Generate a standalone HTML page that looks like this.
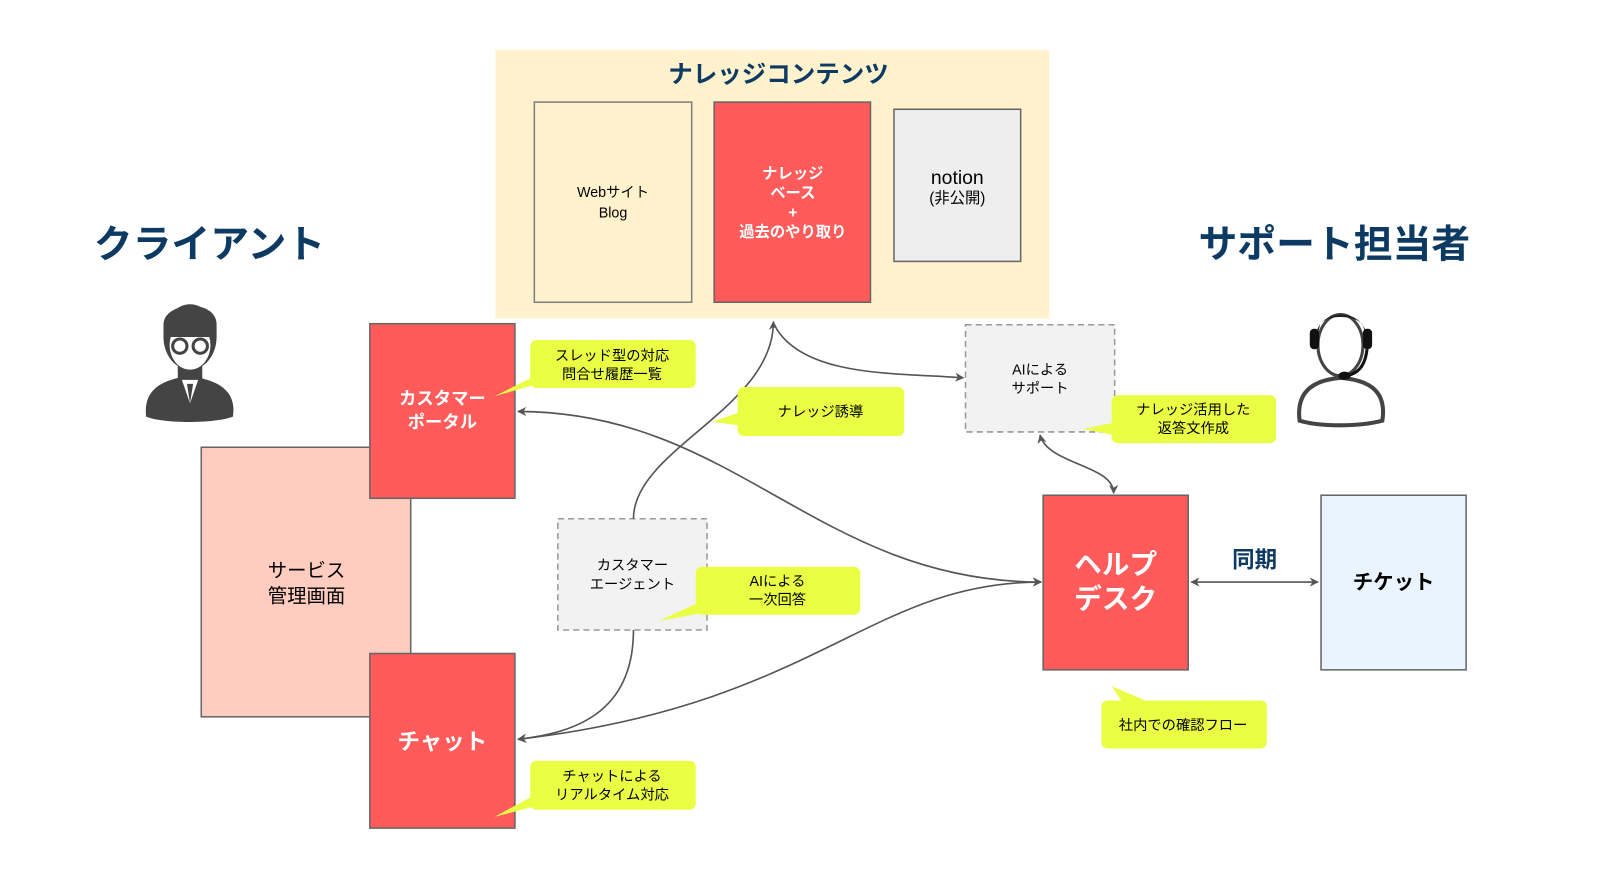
<!DOCTYPE html>
<html><head><meta charset="utf-8"><style>
html,body{margin:0;padding:0;background:#fff;}
svg{display:block;}
text{font-family:"Liberation Sans","Noto Sans CJK JP",sans-serif;}
</style></head><body>
<svg width="1602" height="871" viewBox="0 0 1568 853" preserveAspectRatio="none" xmlns="http://www.w3.org/2000/svg">
<defs>
<marker id="ah" viewBox="0 0 10 10" refX="9" refY="5" markerWidth="9" markerHeight="9" orient="auto-start-reverse" markerUnits="userSpaceOnUse">
<path d="M0,0 L10,5 L0,10 L3,5 Z" fill="#555"/>
</marker>
</defs>
<rect x="485" y="49" width="542" height="263" fill="#fff2cc"/>
<text x="762" y="81" font-size="24" font-weight="bold" fill="#0d3a63" text-anchor="middle">ナレッジコンテンツ</text>
<rect x="523" y="100" width="154" height="196" fill="#fff2cc" stroke="#7f7f7f" stroke-width="1.5"/>
<text x="600" y="193" font-size="14" text-anchor="middle">Webサイト</text>
<text x="600" y="213" font-size="14" text-anchor="middle">Blog</text>
<rect x="699" y="100" width="153" height="196" fill="#ff5b5b" stroke="#666" stroke-width="1.5"/>
<g font-size="15" font-weight="bold" fill="#fff" text-anchor="middle">
<text x="776" y="175">ナレッジ</text><text x="776" y="194">ベース</text><text x="776" y="213">+</text><text x="776" y="232">過去のやり取り</text></g>
<rect x="875" y="107" width="124" height="149" fill="#eeeeee" stroke="#666" stroke-width="1.5"/>
<text x="937" y="180" font-size="19" text-anchor="middle">notion</text>
<text x="937" y="199" font-size="15" text-anchor="middle">(非公開)</text>
<text x="205" y="252" font-size="38" font-weight="bold" fill="#0d3a63" text-anchor="middle">クライアント</text>
<text x="1306" y="252" font-size="38" font-weight="bold" fill="#0d3a63" text-anchor="middle">サポート担当者</text>
<g fill="#444">
<path d="M143,408 C140,380 160,372 185,368 C210,372 232,380 228,408 C210,415 160,415 143,408Z"/>
<ellipse cx="186" cy="330" rx="26" ry="32"/>
<rect x="174" y="350" width="24" height="22"/>
</g>
<ellipse cx="186" cy="338" rx="20" ry="24" fill="#fff"/>
<path d="M160,318 C160,295 212,292 212,318 L212,330 L160,330Z" fill="#444"/>
<circle cx="176" cy="339" r="7" fill="none" stroke="#444" stroke-width="3"/>
<circle cx="196" cy="339" r="7" fill="none" stroke="#444" stroke-width="3"/>
<path d="M178,372 L186,395 L194,372Z" fill="#fff"/>
<path d="M183,376 L186,395 L189,376Z" fill="#444"/>
<path d="M1272,412 C1268,380 1290,372 1312,370 C1336,372 1358,380 1353,412 C1330,418 1292,418 1272,412Z" fill="#fff" stroke="#444" stroke-width="4"/>
<ellipse cx="1312" cy="338" rx="22" ry="30" fill="#fff" stroke="#444" stroke-width="3"/>
<path d="M1288,335 C1284,300 1340,298 1338,335 L1334,318 C1326,308 1298,308 1292,318Z" fill="#222"/>
<rect x="1282" y="322" width="9" height="20" rx="4" fill="#111"/>
<rect x="1334" y="322" width="9" height="20" rx="4" fill="#111"/>
<path d="M1338,342 C1336,360 1328,366 1318,368" fill="none" stroke="#111" stroke-width="3"/>
<ellipse cx="1316" cy="368" rx="6" ry="4" fill="#111"/>
<rect x="197" y="438" width="205" height="264" fill="#ffccc0" stroke="#666" stroke-width="1.5"/>
<text x="300" y="565" font-size="19" text-anchor="middle">サービス</text>
<text x="300" y="590" font-size="19" text-anchor="middle">管理画面</text>
<rect x="362" y="317" width="142" height="171" fill="#ff5b5b" stroke="#666" stroke-width="1.5"/>
<text x="433" y="396" font-size="17" font-weight="bold" fill="#fff" text-anchor="middle">カスタマー</text>
<text x="433" y="419" font-size="17" font-weight="bold" fill="#fff" text-anchor="middle">ポータル</text>
<rect x="362" y="640" width="142" height="171" fill="#ff5b5b" stroke="#666" stroke-width="1.5"/>
<text x="433" y="734" font-size="22" font-weight="bold" fill="#fff" text-anchor="middle">チャット</text>
<rect x="945" y="318" width="146" height="105" fill="#f2f2f2" stroke="#999" stroke-width="1.5" stroke-dasharray="6,4"/>
<text x="1018" y="367" font-size="14" text-anchor="middle">AIによる</text>
<text x="1018" y="385" font-size="14" text-anchor="middle">サポート</text>
<rect x="546" y="508" width="146" height="109" fill="#f2f2f2" stroke="#999" stroke-width="1.5" stroke-dasharray="6,4"/>
<text x="619" y="558" font-size="14" text-anchor="middle">カスタマー</text>
<text x="619" y="577" font-size="14" text-anchor="middle">エージェント</text>
<rect x="1021" y="485" width="142" height="171" fill="#ff5b5b" stroke="#666" stroke-width="1.5"/>
<text x="1092" y="562" font-size="27" font-weight="bold" fill="#fff" text-anchor="middle">ヘルプ</text>
<text x="1092" y="596" font-size="27" font-weight="bold" fill="#fff" text-anchor="middle">デスク</text>
<rect x="1293" y="485" width="142" height="171" fill="#eaf4ff" stroke="#666" stroke-width="1.5"/>
<text x="1364" y="577" font-size="20" font-weight="bold" text-anchor="middle">チケット</text>
<text x="1228" y="556" font-size="22" font-weight="bold" fill="#0d3a63" text-anchor="middle">同期</text>
<g fill="none" stroke="#555" stroke-width="1.6">
<path d="M1166,570 L1290,570" marker-start="url(#ah)" marker-end="url(#ah)"/>
<path d="M1019,570 C800,570 720,403 507,403" marker-start="url(#ah)" marker-end="url(#ah)"/>
<path d="M507,724 C800,690 850,570 1019,570" marker-start="url(#ah)" marker-end="url(#ah)"/>
<path d="M620,508 C620,440 757,400 757,315" marker-end="url(#ah)"/>
<path d="M760,322 C790,370 880,365 943,370" marker-end="url(#ah)"/>
<path d="M620,617 C620,700 560,718 507,724" marker-end="url(#ah)"/>
<path d="M1018,426 C1025,455 1090,455 1090,483" marker-start="url(#ah)" marker-end="url(#ah)"/>
</g>
<g fill="#eaff44">
<rect x="519" y="333" width="162" height="47" rx="6"/><path d="M530,365 L484,388 L530,375Z"/>
<rect x="722" y="379" width="163" height="48" rx="6"/><path d="M735,400 L697,413 L735,418Z"/>
<rect x="681" y="555" width="161" height="47" rx="6"/><path d="M695,585 L645,608 L700,598Z"/>
<rect x="519" y="745" width="162" height="48" rx="6"/><path d="M530,775 L484,800 L530,788Z"/>
<rect x="1088" y="387" width="161" height="47" rx="6"/><path d="M1100,412 L1060,420 L1100,428Z"/>
<rect x="1078" y="686" width="162" height="47" rx="6"/><path d="M1088,672 L1100,690 L1130,690Z"/>
</g>
<g font-size="14" text-anchor="middle">
<text x="599" y="353">スレッド型の対応</text><text x="599" y="371">問合せ履歴一覧</text>
<text x="803" y="408">ナレッジ誘導</text>
<text x="761" y="574">AIによる</text><text x="761" y="592">一次回答</text>
<text x="599" y="765">チャットによる</text><text x="599" y="783">リアルタイム対応</text>
<text x="1168" y="406">ナレッジ活用した</text><text x="1168" y="424">返答文作成</text>
<text x="1158" y="715">社内での確認フロー</text>
</g>
</svg>
</body></html>
